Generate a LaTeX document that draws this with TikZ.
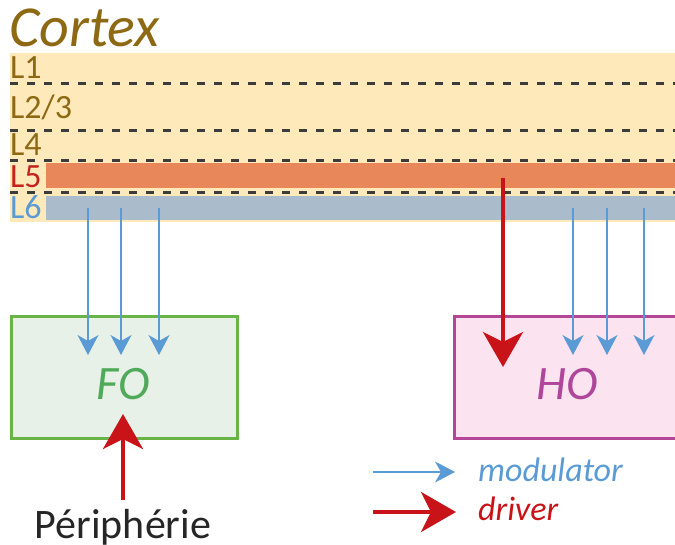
\documentclass[tikz,border=0pt]{standalone}
\usepackage{fontspec}
\setmainfont{Carlito}
\usetikzlibrary{arrows.meta}
\definecolor{cortexc}{RGB}{142,105,20}
\definecolor{beige}{RGB}{253,233,185}
\definecolor{dashc}{RGB}{60,60,60}
\definecolor{lfive}{RGB}{232,135,90}
\definecolor{lsix}{RGB}{170,187,204}
\definecolor{lfivet}{RGB}{195,35,30}
\definecolor{modblue}{RGB}{91,155,213}
\definecolor{drvred}{RGB}{200,20,25}
\definecolor{fobord}{RGB}{105,180,70}
\definecolor{fofill}{RGB}{231,241,231}
\definecolor{fotext}{RGB}{80,170,90}
\definecolor{hobord}{RGB}{180,70,150}
\definecolor{hofill}{RGB}{251,228,240}
\definecolor{hotext}{RGB}{175,70,155}
\tikzset{
  layerline/.style={dashc, line width=3pt, dash pattern=on 8pt off 9pt},
  laylabel/.style={anchor=base west, inner sep=0pt, font=\fontsize{34}{40}\selectfont},
  modarrow/.style={modblue, line width=1.5pt, -{Stealth[length=20pt,width=21pt,inset=6pt]}},
  drvarrow/.style={drvred, line width=4pt, -{Stealth[length=35pt,width=40pt,inset=10pt]}},
  nucleus/.style={draw, line width=3pt, inner sep=0pt, anchor=north west},
}
\begin{document}
\begin{tikzpicture}[x=1pt,y=-1pt]
\useasboundingbox (0,0) rectangle (675,544);
% Cortex title
\node[anchor=base west, inner sep=0pt, text=cortexc, font=\fontsize{58}{66}\selectfont\itshape] (cortex) at (9,46) {Cortex};
% layers
\fill[beige] (10,53) rectangle (675,222);
\fill[lfive] (46,163) rectangle (675,188);
\fill[lsix] (46,196) rectangle (675,220);
\draw[layerline] (10,83) -- (675,83);
\draw[layerline] (10,130) -- (675,130);
\draw[layerline] (10,160) -- (675,160);
\draw[layerline] (10,192) -- (675,192);
\node[laylabel, text=cortexc] (l1) at (10,78) {L1};
\node[laylabel, text=cortexc] (l23) at (10,118) {L2/3};
\node[laylabel, text=cortexc] (l4) at (10,155) {L4};
\node[laylabel, text=lfivet] (l5) at (10,187) {L5};
\node[laylabel, text=modblue] (l6) at (10,218) {L6};
% nuclei
\node[nucleus, draw=fobord, fill=fofill, minimum width=226pt, minimum height=122pt] (fo) at (10,315) {};
\node[text=fotext, font=\fontsize{48}{56}\selectfont\itshape] (fot) at (123,384) {FO};
\node[nucleus, draw=hobord, fill=hofill, minimum width=240pt, minimum height=122pt] (ho) at (453,315) {};
\node[text=hotext, font=\fontsize{48}{56}\selectfont\itshape] (hot) at (567,384) {HO};
% modulator arrows
\foreach \x/\n in {88/a,121/b,159/c,573/d,607/e,644/f}{
  \coordinate (s\n) at (\x,208);
  \coordinate (t\n) at (\x,355);
  \draw[modarrow] (s\n) -- (t\n);
}
% driver from L5
\coordinate (l5src) at (503,178);
\coordinate (hotip) at (503,367);
\draw[drvarrow] (l5src) -- (hotip);
% periphery
\node[anchor=base, inner sep=0pt, text=black!85, font=\fontsize{42}{50}\selectfont] (peri) at (123,538) {Périphérie};
\coordinate (fotip) at (123,414);
\draw[drvarrow] (123,500) coordinate (perisrc) -- (fotip);
% legend
\coordinate (m1) at (373,472);
\coordinate (m2) at (455,472);
\draw[modarrow] (m1) -- (m2);
\node[anchor=base west, inner sep=0pt, text=modblue, font=\fontsize{34}{40}\selectfont\itshape] (modl) at (478,481) {modulator};
\coordinate (d1) at (373,512);
\coordinate (d2) at (456,512);
\draw[drvarrow] (d1) -- (d2);
\node[anchor=base west, inner sep=0pt, text=drvred, font=\fontsize{34}{40}\selectfont\itshape] (drvl) at (478,520) {driver};
\end{tikzpicture}
\end{document}
